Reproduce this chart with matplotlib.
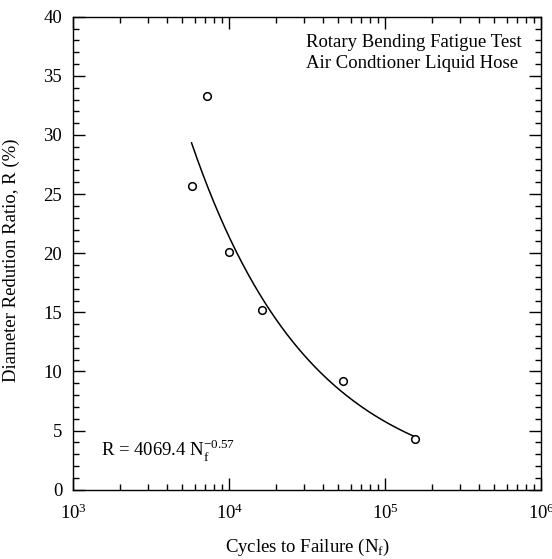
import numpy as np
import matplotlib
matplotlib.use("Agg")
import matplotlib.pyplot as plt
from matplotlib.ticker import LogLocator, NullFormatter, MultipleLocator

plt.rcParams['font.family'] = ['Liberation Serif', 'DejaVu Serif']
plt.rcParams['mathtext.fontset'] = 'custom'
plt.rcParams['mathtext.rm'] = 'Liberation Serif'

# measured data
cycles = [5730, 7240, 10000, 16100, 54000, 155300]
ratio = [25.7, 33.3, 20.1, 15.2, 9.2, 4.3]

# power-law fit shown on the chart: R = A * Nf^b
fit_A = 4069.4
fit_b = -0.57
fit_start, fit_end = 5730, 155300

fs = 13.5

fig = plt.figure(figsize=(5.52, 5.59), dpi=100)
ax = fig.add_axes([0.1328, 0.124, 0.8476, 0.846])

nf = np.logspace(np.log10(fit_start), np.log10(fit_end), 200)
ax.plot(nf, fit_A * nf ** fit_b, color='black', lw=1.1)
ax.plot(cycles, ratio, 'o', mfc='white', mec='black', ms=5.5, mew=1.1)

ax.set_xscale('log')
ax.set_xlim(1e3, 1e6)
ax.set_ylim(0, 40)
ax.yaxis.set_major_locator(MultipleLocator(5))
ax.yaxis.set_minor_locator(MultipleLocator(1))
ax.xaxis.set_major_locator(LogLocator(base=10, numticks=10))
ax.xaxis.set_minor_locator(LogLocator(base=10, subs=np.arange(2, 10), numticks=10))
ax.xaxis.set_minor_formatter(NullFormatter())

ax.tick_params(which='both', direction='in', top=True, right=True,
               labelsize=fs, width=1.0)
ax.tick_params(which='major', length=8.5)
ax.tick_params(which='minor', length=4.5)
ax.tick_params(axis='y', which='major', pad=8)
ax.tick_params(axis='x', which='major', pad=10)
for s in ax.spines.values():
    s.set_linewidth(1.0)

ax.set_xlabel('Cycles to Failure (N$_\\mathregular{f}$)', fontsize=fs, labelpad=10)
ax.set_ylabel('Diameter Redution Ratio, R (%)', fontsize=fs)
ax.yaxis.set_label_coords(-0.113, 0.485)

ax.text(0.497, 0.936, 'Rotary Bending Fatigue Test', transform=ax.transAxes,
        ha='left', va='baseline', fontsize=fs)
ax.text(0.497, 0.8915, 'Air Condtioner Liquid Hose', transform=ax.transAxes,
        ha='left', va='baseline', fontsize=fs)
ax.text(0.059, 0.07, 'R = 4069.4 N$_\\mathregular{f}^{\\mathregular{-0.57}}$',
        transform=ax.transAxes, ha='left', va='baseline', fontsize=fs)

fig.savefig('out.png', dpi=100)
